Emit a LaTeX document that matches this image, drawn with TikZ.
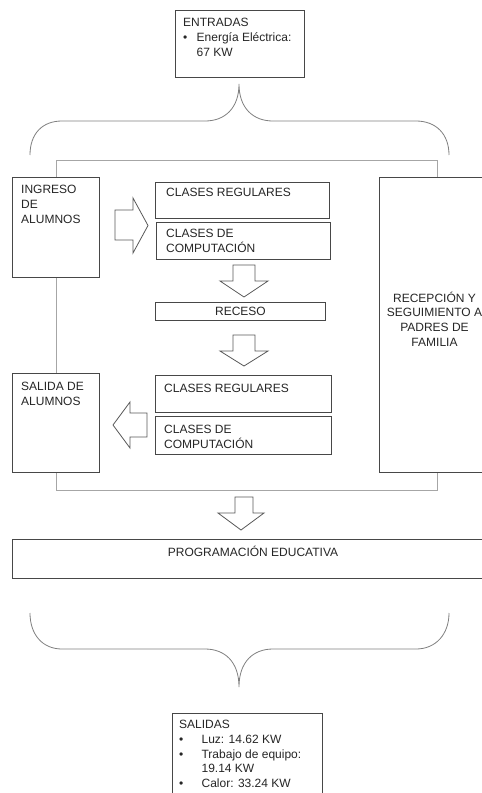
\documentclass[tikz,border=0pt]{standalone}
\usepackage{fontspec}
\setmainfont{Liberation Sans}
\begin{document}
\begin{tikzpicture}[x=1pt,y=-1pt,
  box/.style={draw=black!72, line width=0.9pt, fill=white, inner sep=0pt, anchor=north west},
  txt/.style={inner sep=0pt, anchor=north west, align=left, text=black!85,
              font=\fontsize{12}{14.8}\selectfont},
  ctxt/.style={inner sep=0pt, align=center, text=black!85,
               font=\fontsize{12}{14.8}\selectfont},
  frame/.style={draw=black!35, line width=0.9pt},
  brace/.style={draw=black!50, line width=0.8pt},
  blockarr/.style={draw=black!65, line width=0.8pt, fill=white, line join=miter}]
\useasboundingbox (0,0) rectangle (482,793);
\clip (0,0) rectangle (482,793);
\fill[white] (0,0) rectangle (482,793);

% braces
\draw[brace] (30,155) .. controls (30,134) and (42,121) .. (62,121) -- (205,121)
  .. controls (225,121) and (239,108) .. (239,84)
  .. controls (239,108) and (253,121) .. (273,121) -- (416,121)
  .. controls (436,121) and (449,134) .. (449,155);
\draw[brace] (30,613) .. controls (30,634) and (42,649) .. (62,649) -- (205,649)
  .. controls (225,649) and (239,662) .. (239,687)
  .. controls (239,662) and (253,649) .. (273,649) -- (416,649)
  .. controls (436,649) and (449,634) .. (449,613);

% process frame
\draw[frame] (56.5,160) rectangle (437,490);

% boxes
\node[box, minimum width=129pt, minimum height=67pt] (entr) at (175,10) {};
\node[box, minimum width=87pt, minimum height=100pt] (ingreso) at (12,177) {};
\node[box, minimum width=174pt, minimum height=36pt] (cr1) at (155,182) {};
\node[box, minimum width=174pt, minimum height=37pt] (cc1) at (156,222) {};
\node[box, minimum width=170pt, minimum height=18pt] (receso) at (155,302) {};
\node[box, minimum width=176pt, minimum height=37pt] (cr2) at (155,375) {};
\node[box, minimum width=176pt, minimum height=38pt] (cc2) at (155,416) {};
\node[box, minimum width=87pt, minimum height=99pt] (salida) at (12,373) {};
\node[box, minimum width=130pt, minimum height=295pt] (recep) at (379,177) {};
\node[box, minimum width=490pt, minimum height=39pt] (prog) at (12,539) {};
\node[box, minimum width=150pt, minimum height=100pt] (sal) at (172,713) {};

% texts
\node[txt] (tentr) at (183,18) {ENTRADAS\\\makebox[13.5pt][l]{\textbullet}Energía Eléctrica:\\\hspace*{13.5pt}67 KW};
\node[txt] (tingreso) at (21,185) {INGRESO\\DE\\ALUMNOS};
\node[txt] (tcr1) at (166,188) {CLASES REGULARES};
\node[txt] (tcc1) at (166,229) {CLASES DE\\COMPUTACIÓN};
\node[ctxt] (treceso) at (receso.center) {RECESO};
\node[txt] (tcr2) at (164,384) {CLASES REGULARES};
\node[txt] (tcc2) at (164,425) {CLASES DE\\COMPUTACIÓN};
\node[txt] (tsalida) at (21,382) {SALIDA DE\\ALUMNOS};
\node[ctxt] (trecep) at (434.5,319) {RECEPCIÓN Y\\SEGUIMIENTO A\\PADRES DE\\FAMILIA};
\node[txt, anchor=base] (tprog) at (253,556.6) {PROGRAMACIÓN EDUCATIVA};
\node[txt] (tsal) at (179,720) {SALIDAS\\\makebox[22.4pt][l]{\textbullet}Luz: 14.62 KW\\\makebox[22.4pt][l]{\textbullet}Trabajo de equipo:\\\hspace*{22.4pt}19.14 KW\\\makebox[22.4pt][l]{\textbullet}Calor: 33.24 KW};

% block arrows
\draw[blockarr] (115,210) -- (133,210) -- (133,198) -- (148,225.5) -- (133,253) -- (133,240) -- (115,240) -- cycle;
\draw[blockarr] (233,265) -- (255,265) -- (255,281) -- (268,281) -- (244,297) -- (220,281) -- (233,281) -- cycle;
\draw[blockarr] (233,335) -- (255,335) -- (255,351) -- (268,351) -- (244,366) -- (220,351) -- (233,351) -- cycle;
\draw[blockarr] (147,413) -- (130,413) -- (130,402) -- (113,425) -- (130,448) -- (130,437) -- (147,437) -- cycle;
\draw[blockarr] (235,497) -- (253,497) -- (253,513) -- (264,513) -- (241,530) -- (218,513) -- (235,513) -- cycle;
\end{tikzpicture}
\end{document}
